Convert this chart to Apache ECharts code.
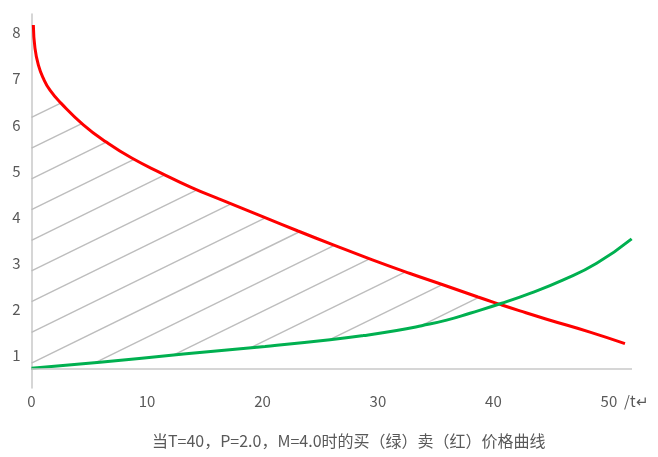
<!DOCTYPE html>
<html>
<head>
<meta charset="utf-8">
<script src="https://cdn.jsdelivr.net/npm/echarts@6/dist/echarts.min.js"></script>
<style>html,body{margin:0;padding:0;background:#fff}#c{width:658px;height:457px}</style>
</head>
<body>
<div id="c"></div>
<script>
// ---- data ----
const titleText = '当T=40，P=2.0，M=4.0时的买（绿）卖（红）价格曲线';
const xAxisName = '/t↵';
const xTicks = [0, 10, 20, 30, 40, 50];
const yTicks = [1, 2, 3, 4, 5, 6, 7, 8];
// sell price (red)
const sellT = [0.16, 0.30, 0.59, 1.02, 1.60, 2.55, 4.49, 6.51, 8.68, 11.27, 13.87, 16.18, 20.12, 23.08, 26.13, 29.46, 32.78, 35.81, 38.66, 40.57, 42.30, 44.61, 48.36, 51.39];
const sellPrice = [8.16, 7.66, 7.30, 7.01, 6.75, 6.47, 6.00, 5.62, 5.28, 4.95, 4.64, 4.40, 4.00, 3.70, 3.40, 3.08, 2.78, 2.52, 2.27, 2.11, 1.97, 1.79, 1.51, 1.26];
// buy price (green)
const buyT = [0, 5.93, 13.16, 20.22, 25.85, 28.73, 31.62, 33.79, 35.95, 37.97, 40.72, 43.17, 46.05, 48.94, 51.97];
const buyPrice = [0.73, 0.86, 1.035, 1.20, 1.345, 1.435, 1.545, 1.65, 1.77, 1.92, 2.135, 2.35, 2.64, 3.00, 3.53];
// axis range / crossing
const yMin = 0.3, yMax = 8.4, xMin = 0, xMax = 52;
const xAxisCrossing = 0.71;

// ---- style ----
const FONT = '"Noto Sans CJK SC", "Noto Sans", sans-serif';
const TEXT = '#595959';
const AXIS = '#c8c8c8';
const hatch = { anchorPrice: 0.84, spacing: 30.7, slope: 0.49, jMin: -8, jMax: 8, color: '#bdbdbd', width: 1.4 };

function interp(poly, x, before) {
  if (x < poly[0][0]) return before;
  for (let i = 1; i < poly.length; i++) {
    if (x <= poly[i][0]) {
      const a = poly[i - 1], b = poly[i];
      const t = (x - a[0]) / (b[0] - a[0] || 1);
      return a[1] + t * (b[1] - a[1]);
    }
  }
  return poly[poly.length - 1][1];
}

function renderHatch(params, api) {
  const red = sellT.map((t, i) => api.coord([t, sellPrice[i]]));
  const green = buyT.map((t, i) => api.coord([t, buyPrice[i]]));
  const cs = params.coordSys;
  const anchor = api.coord([xMin, hatch.anchorPrice]);
  const children = [];
  const redEnd = red[red.length - 1][0];
  for (let j = hatch.jMin; j <= hatch.jMax; j++) {
    const b = anchor[1] + j * hatch.spacing;
    const f = x => b - hatch.slope * (x - anchor[0]);
    let x1 = null, x2 = null;
    for (let x = cs.x; x <= cs.x + cs.width; x += 0.25) {
      const y = f(x);
      const g = interp(green, x, green[0][1]);
      const r = x > redEnd ? Infinity : interp(red, x, -Infinity);
      if (y <= g && y >= r && y >= cs.y) {
        if (x1 === null) x1 = x;
        x2 = x;
      } else if (x1 !== null) {
        break;
      }
    }
    if (x1 !== null && x2 - x1 > 1) {
      children.push({
        type: 'line',
        shape: { x1: x1, y1: f(x1), x2: x2, y2: f(x2) },
        style: { stroke: hatch.color, lineWidth: hatch.width }
      });
    }
  }
  return { type: 'group', children: children };
}

const chart = echarts.init(document.getElementById('c'), null, { renderer: 'canvas' });
chart.setOption({
  animation: false,
  backgroundColor: '#ffffff',
  title: {
    text: titleText,
    left: 152, top: 433, padding: 0,
    textStyle: { fontFamily: FONT, fontSize: 16, fontWeight: 'normal', color: TEXT }
  },
  grid: { left: 31.5, right: 26, top: 14, bottom: 69, containLabel: false, outerBoundsMode: 'none' },
  xAxis: {
    type: 'value', min: xMin, max: xMax,
    name: xAxisName, nameLocation: 'end', nameGap: -8,
    nameTextStyle: { fontFamily: FONT, fontSize: 15, color: TEXT, verticalAlign: 'top', padding: [6, 0, 0, 0] },
    axisLine: { show: false },
    axisTick: { show: false },
    splitLine: { show: false },
    axisLabel: { customValues: xTicks, margin: 6, fontFamily: FONT, fontSize: 15, color: TEXT }
  },
  yAxis: {
    type: 'value', min: yMin, max: yMax,
    axisLine: { show: true, lineStyle: { color: AXIS, width: 1.5 } },
    axisTick: { show: false },
    splitLine: { show: false },
    axisLabel: { customValues: yTicks, margin: 11, fontFamily: FONT, fontSize: 15, color: TEXT }
  },
  series: [
    {
      type: 'custom', silent: true, z: 1, clip: false,
      renderItem: renderHatch,
      data: [[xMin, yMin]],
      markLine: {
        silent: true, symbol: ['none', 'none'],
        label: { show: false },
        lineStyle: { color: AXIS, width: 1.5, type: 'solid' },
        data: [{ yAxis: xAxisCrossing }]
      }
    },
    {
      name: '卖', type: 'line', z: 3,
      data: sellT.map((t, i) => [t, sellPrice[i]]),
      smooth: 0.5,
      showSymbol: false, silent: true,
      lineStyle: { color: '#ff0000', width: 3 }
    },
    {
      name: '买', type: 'line', z: 3,
      data: buyT.map((t, i) => [t, buyPrice[i]]),
      smooth: 0.5,
      showSymbol: false, silent: true,
      lineStyle: { color: '#00b050', width: 3 }
    }
  ]
});
</script>
</body>
</html>
